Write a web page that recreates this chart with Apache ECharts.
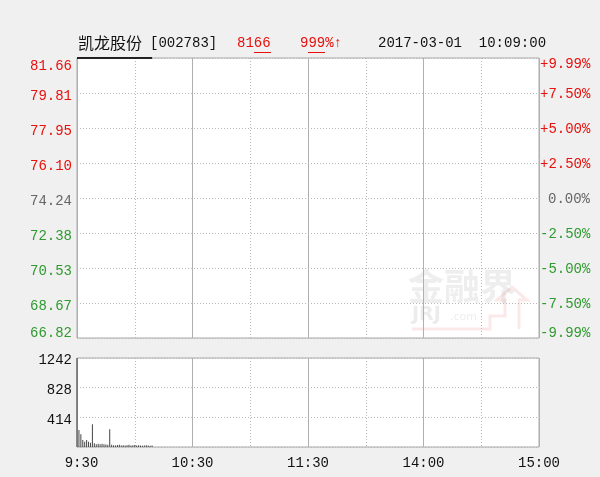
<!DOCTYPE html>
<html>
<head>
<meta charset="utf-8">
<script src="https://cdn.jsdelivr.net/npm/echarts@6/dist/echarts.min.js"></script>
<style>
html,body{margin:0;padding:0;background:#f0f0f0;}
#c{width:600px;height:477px;}
</style>
</head>
<body>
<div id="c"></div>
<script>
// ---- data ----
var minutes = [0,1,2,3,4,5,6,7,8,9,10,11,12,13,14,15,16,17,18,19,20,21,22,23,24,25,26,27,28,29,30,31,32,33,34,35,36,37,38,39];
var prices = [81.66,81.66,81.66,81.66,81.66,81.66,81.66,81.66,81.66,81.66,81.66,81.66,81.66,81.66,81.66,81.66,81.66,81.66,81.66,81.66,81.66,81.66,81.66,81.66,81.66,81.66,81.66,81.66,81.66,81.66,81.66,81.66,81.66,81.66,81.66,81.66,81.66,81.66,81.66,81.66];
var volumes = [1242,237,177,98,74,98,74,60,317,54,40,46,40,46,38,35,30,247,30,25,22,28,30,20,26,22,25,30,20,25,28,20,25,22,18,22,26,20,18,22];
var priceTicks = ['66.82','68.67','70.53','72.38','74.24','76.10','77.95','79.81','81.66'];
var pctTicks = ['-9.99%','-7.50%','-5.00%','-2.50%','0.00%','+2.50%','+5.00%','+7.50%','+9.99%'];
var volTicks = ['', '414', '828', '1242'];
var timeLabels = {0:'9:30', 60:'10:30', 120:'11:30', 180:'14:00', 240:'15:00'};
var titleName = '凯龙股份';
var titleCode = '[002783]';
var titlePrice = '8166';
var titlePct = '999%↑';
var titleTime = '2017-03-01  10:09:00';

var RED = '#e8100c', GREEN = '#2f9a2f', GRAY = '#666666';
var MONO = 'Liberation Mono';

function pairs(xs, ys){ return xs.map(function(x,i){ return [x, ys[i]]; }); }

var chart = echarts.init(document.getElementById('c'), null, {renderer:'canvas'});

var pMin = 66.82, pMax = 81.66, pInt = (81.66 - 66.82) / 8;

var gridLineColor = '#b8b8b8';

chart.setOption({
  backgroundColor: '#f0f0f0',
  animation: false,
  grid: [
    {left: 77, right: 61, top: 58, height: 280, show: true, backgroundColor: '#ffffff', borderColor: '#a8a8a8', borderWidth: 1},
    {left: 77, right: 61, top: 358, height: 89, show: true, backgroundColor: '#ffffff', borderColor: '#a8a8a8', borderWidth: 1}
  ],
  xAxis: [
    {gridIndex: 0, type: 'value', min: 0, max: 240, interval: 30,
     axisLine: {show: false}, axisTick: {show: false}, axisLabel: {show: false},
     splitLine: {show: true, lineStyle: {color: gridLineColor, type: [1, 2]}}},
    {gridIndex: 1, type: 'value', min: 0, max: 240, interval: 30,
     axisLine: {show: false}, axisTick: {show: false},
     axisLabel: {show: true, margin: 9, color: '#111', fontFamily: MONO, fontSize: 14,
       formatter: function(v){
         var t = timeLabels[v];
         if (t === undefined) return '';
         if (v === 0) return '{f|' + t + '}';
         return '{n|' + t + '}';
       },
       rich: {
         f: {color: '#111', fontFamily: MONO, fontSize: 14, padding: [0, 0, 0, 9]},
         n: {color: '#111', fontFamily: MONO, fontSize: 14}
       }},
     splitLine: {show: true, lineStyle: {color: gridLineColor, type: [1, 2]}}},
    {gridIndex: 0, type: 'value', min: 0, max: 240, interval: 60, position: 'top',
     axisLine: {show: false}, axisTick: {show: false}, axisLabel: {show: false},
     splitLine: {show: true, lineStyle: {color: '#b0b0b0', type: 'solid'}}},
    {gridIndex: 1, type: 'value', min: 0, max: 240, interval: 60, position: 'top',
     axisLine: {show: false}, axisTick: {show: false}, axisLabel: {show: false},
     splitLine: {show: true, lineStyle: {color: '#b0b0b0', type: 'solid'}}}
  ],
  yAxis: [
    {gridIndex: 0, type: 'value', min: pMin, max: pMax, interval: pInt, position: 'left',
     axisLine: {show: false}, axisTick: {show: false},
     splitLine: {show: true, lineStyle: {color: gridLineColor, type: [1, 2]}},
     axisLabel: {show: true, margin: 5, fontFamily: MONO, fontSize: 14,
       showMinLabel: true, showMaxLabel: true,
       formatter: function(v, i){
         var t = priceTicks[i];
         if (i === 8) return '{rt|' + t + '}';
         if (i === 0) return '{gb|' + t + '}';
         if (i > 4) return '{rm|' + t + '}';
         if (i < 4) return '{gm|' + t + '}';
         return '{nm|' + t + '}';
       },
       rich: {
         rt: {color: RED, fontFamily: MONO, fontSize: 14, padding: [17, 0, 0, 0]},
         rm: {color: RED, fontFamily: MONO, fontSize: 14, padding: [6, 0, 0, 0]},
         nm: {color: GRAY, fontFamily: MONO, fontSize: 14, padding: [6, 0, 0, 0]},
         gm: {color: GREEN, fontFamily: MONO, fontSize: 14, padding: [6, 0, 0, 0]},
         gb: {color: GREEN, fontFamily: MONO, fontSize: 14, padding: [0, 0, 10, 0]}
       }}},
    {gridIndex: 0, type: 'value', min: pMin, max: pMax, interval: pInt, position: 'right',
     axisLine: {show: false}, axisTick: {show: false}, splitLine: {show: false},
     axisLabel: {show: true, margin: 1, fontFamily: MONO, fontSize: 14,
       showMinLabel: true, showMaxLabel: true,
       formatter: function(v, i){
         var t = pctTicks[i];
         if (i === 8) return '{rt|' + t + '}';
         if (i === 0) return '{gb|' + t + '}';
         if (i > 4) return '{rm|' + t + '}';
         if (i < 4) return '{gm|' + t + '}';
         return '{nm|' + t + '}';
       },
       rich: {
         rt: {color: RED, fontFamily: MONO, fontSize: 14, padding: [12, 0, 0, 0]},
         rm: {color: RED, fontFamily: MONO, fontSize: 14, padding: [2, 0, 0, 0]},
         nm: {color: GRAY, fontFamily: MONO, fontSize: 14, padding: [2, 0, 0, 8]},
         gm: {color: GREEN, fontFamily: MONO, fontSize: 14, padding: [2, 0, 0, 0]},
         gb: {color: GREEN, fontFamily: MONO, fontSize: 14, padding: [0, 0, 10, 0]}
       }}},
    {gridIndex: 1, type: 'value', min: 0, max: 1242, interval: 414,
     axisLine: {show: false}, axisTick: {show: false},
     splitLine: {show: true, lineStyle: {color: gridLineColor, type: [1, 2]}},
     axisLabel: {show: true, margin: 5, color: '#111', fontFamily: MONO, fontSize: 14,
       showMinLabel: true, showMaxLabel: true,
       formatter: function(v, i){ return '{v|' + (volTicks[i] || '') + '}'; },
       rich: {v: {color: '#111', fontFamily: MONO, fontSize: 14, padding: [5, 0, 0, 0]}}}}
  ],
  series: [
    {type: 'line', xAxisIndex: 0, yAxisIndex: 0, data: pairs(minutes, prices),
     showSymbol: false, symbol: 'none', clip: false,
     lineStyle: {color: '#222', width: 2}, z: 5},
    {type: 'bar', xAxisIndex: 1, yAxisIndex: 2, data: pairs(minutes, volumes),
     barWidth: 1, itemStyle: {color: '#444'}, z: 5}
  ],
  graphic: [
    {type: 'text', left: 78, top: 35, style: {text: titleName, fill: '#111', font: '16px "Noto Sans CJK SC"'}},
    {type: 'text', left: 150, top: 36, style: {text: titleCode, fill: '#111', font: '14px "Liberation Mono"'}},
    {type: 'text', left: 237, top: 36, style: {text: titlePrice, fill: RED, font: '14px "Liberation Mono"'}},
    {type: 'line', shape: {x1: 254, y1: 52.5, x2: 271, y2: 52.5}, style: {stroke: RED, lineWidth: 1}},
    {type: 'text', left: 300, top: 36, style: {text: titlePct, fill: RED, font: '14px "Liberation Mono"'}},
    {type: 'line', shape: {x1: 308, y1: 52.5, x2: 325, y2: 52.5}, style: {stroke: RED, lineWidth: 1}},
    {type: 'text', left: 378, top: 36, style: {text: titleTime, fill: '#111', font: '14px "Liberation Mono"'}},
    {type: 'text', left: 408, top: 268, silent: true, style: {text: '金融界', fill: 'rgba(120,120,120,0.13)', font: 'bold 36px "Noto Sans CJK SC"'}},
    {type: 'text', left: 412, top: 306, silent: true, style: {text: 'JRJ', fill: 'rgba(120,120,120,0.14)', font: 'bold 19px "DejaVu Sans"'}},
    {type: 'text', left: 450, top: 312, silent: true, style: {text: '.com', fill: 'rgba(120,120,120,0.14)', font: '11px "DejaVu Sans"'}},
    {type: 'polyline', silent: true, shape: {points: [[412,329],[490,329],[490,316],[505,316],[505,300],[497,300],[512,287],[527,300],[519,300],[519,329]]},
     style: {stroke: 'rgba(230,120,120,0.16)', lineWidth: 3, fill: null}}
  ]
});
</script>
</body>
</html>
